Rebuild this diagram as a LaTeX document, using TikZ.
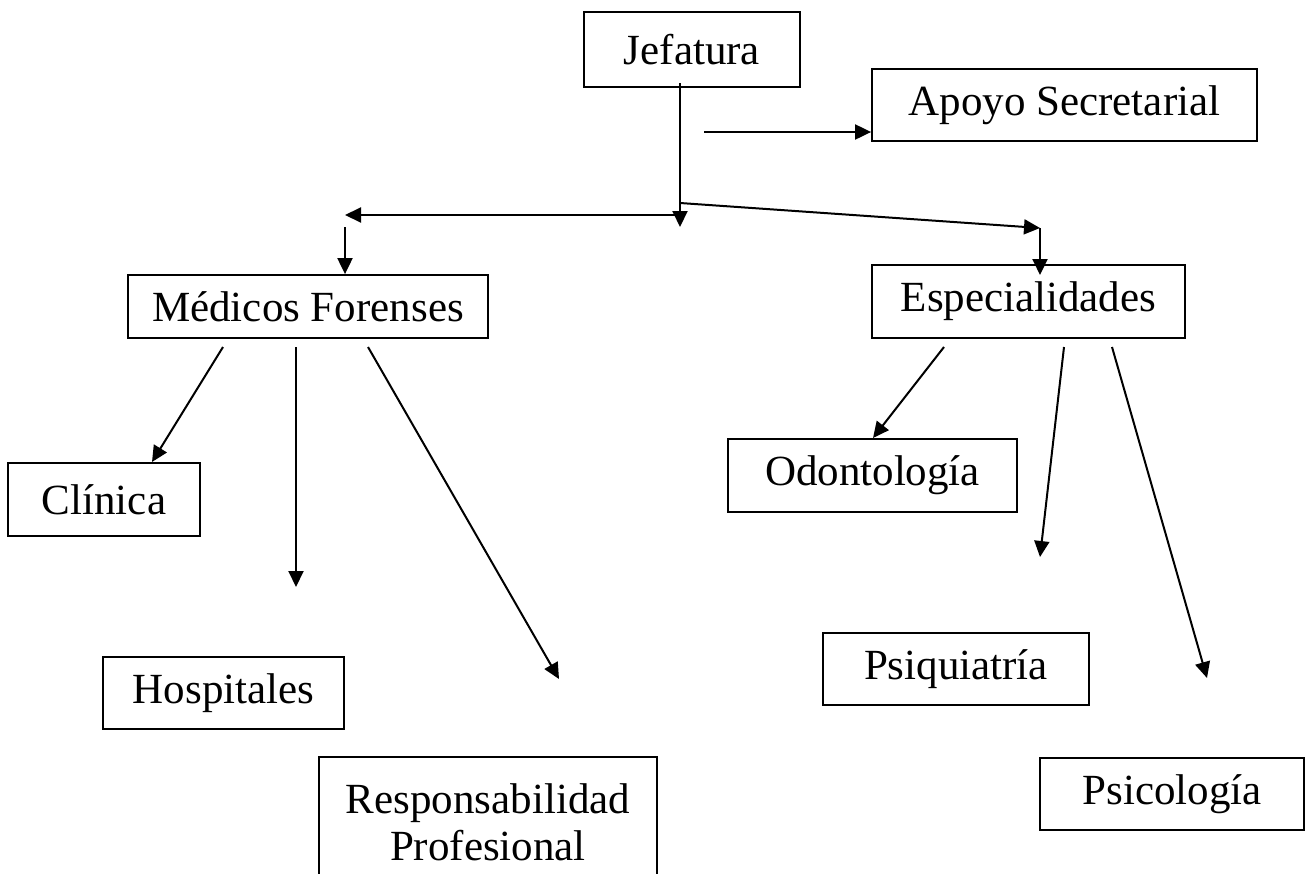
\documentclass[tikz,border=0pt]{standalone}
\usepackage{fontspec}
\setmainfont{Liberation Serif}
\usetikzlibrary{arrows.meta}
\tikzset{
  box/.style={draw, line width=1.8pt, inner sep=0pt, font=\fontsize{43}{47}\selectfont},
  arr/.style={line width=2pt, -{Triangle[length=16pt,width=15pt]}}
}
\begin{document}
\begin{tikzpicture}[x=1pt,y=-1pt]
\useasboundingbox (0,0) rectangle (1306,873);
\clip (0,0) rectangle (1306,873);
% boxes
\node[box, minimum width=216pt, minimum height=75pt] (jef) at (692,49.5) {Jefatura};
\node[box, minimum width=385pt, minimum height=72pt] (apoyo) at (1064.5,105) {Apoyo Secretarial};
\node[box, minimum width=360pt, minimum height=63pt] (med) at (308,306.5) {Médicos Forenses};
\node[box, minimum width=313pt, minimum height=73pt] (esp) at (1028.5,301.5) {Especialidades};
\node[box, minimum width=192pt, minimum height=73pt] (cli) at (104,499.5) {Clínica};
\node[box, minimum width=241pt, minimum height=72pt] (hosp) at (223.5,693) {Hospitales};
\node[box, anchor=north, align=center, minimum width=338pt, minimum height=130pt] (resp) at (488,756) {Responsabilidad\\Profesional};
\node[box, minimum width=289pt, minimum height=73pt] (odo) at (872.5,475.5) {Odontología};
\node[box, minimum width=266pt, minimum height=72pt] (psiq) at (956,669) {Psiquiatría};
\node[box, minimum width=264pt, minimum height=72pt] (psic) at (1172,794) {Psicología};
% free ends
\coordinate (j1) at (680,83);
\coordinate (j2) at (680,227);
\coordinate (a1) at (704,132);
\coordinate (h1) at (680,215);
\coordinate (h2) at (345,215);
\coordinate (m1) at (345,227);
\coordinate (s1) at (680,203);
\coordinate (s2) at (1040,228);
\coordinate (s3) at (1040,275);
\coordinate (mc) at (223,347);
\coordinate (mc2) at (152,462);
\coordinate (mh1) at (296,347);
\coordinate (mh2) at (296,587);
\coordinate (mr1) at (368,347);
\coordinate (mr2) at (559,679);
\coordinate (eo) at (944,347);
\coordinate (eo2) at (873,438);
\coordinate (eq1) at (1064,347);
\coordinate (eq2) at (1040,557);
\coordinate (ep1) at (1112,347);
\coordinate (ep2) at (1207,678);
% connectors
\draw[arr] (j1) -- (j2);
\draw[arr] (a1) -- (a1 -| apoyo.west);
\draw[arr] (h1) -- (h2);
\draw[arr] (m1) -- (m1 |- med.north);
\draw[arr] (s1) -- (s2);
\draw[arr] (s2) -- (s3);
\draw[arr] (mc) -- (mc2);
\draw[arr] (mh1) -- (mh2);
\draw[arr] (mr1) -- (mr2);
\draw[arr] (eo) -- (eo2);
\draw[arr] (eq1) -- (eq2);
\draw[arr] (ep1) -- (ep2);
\end{tikzpicture}
\end{document}
